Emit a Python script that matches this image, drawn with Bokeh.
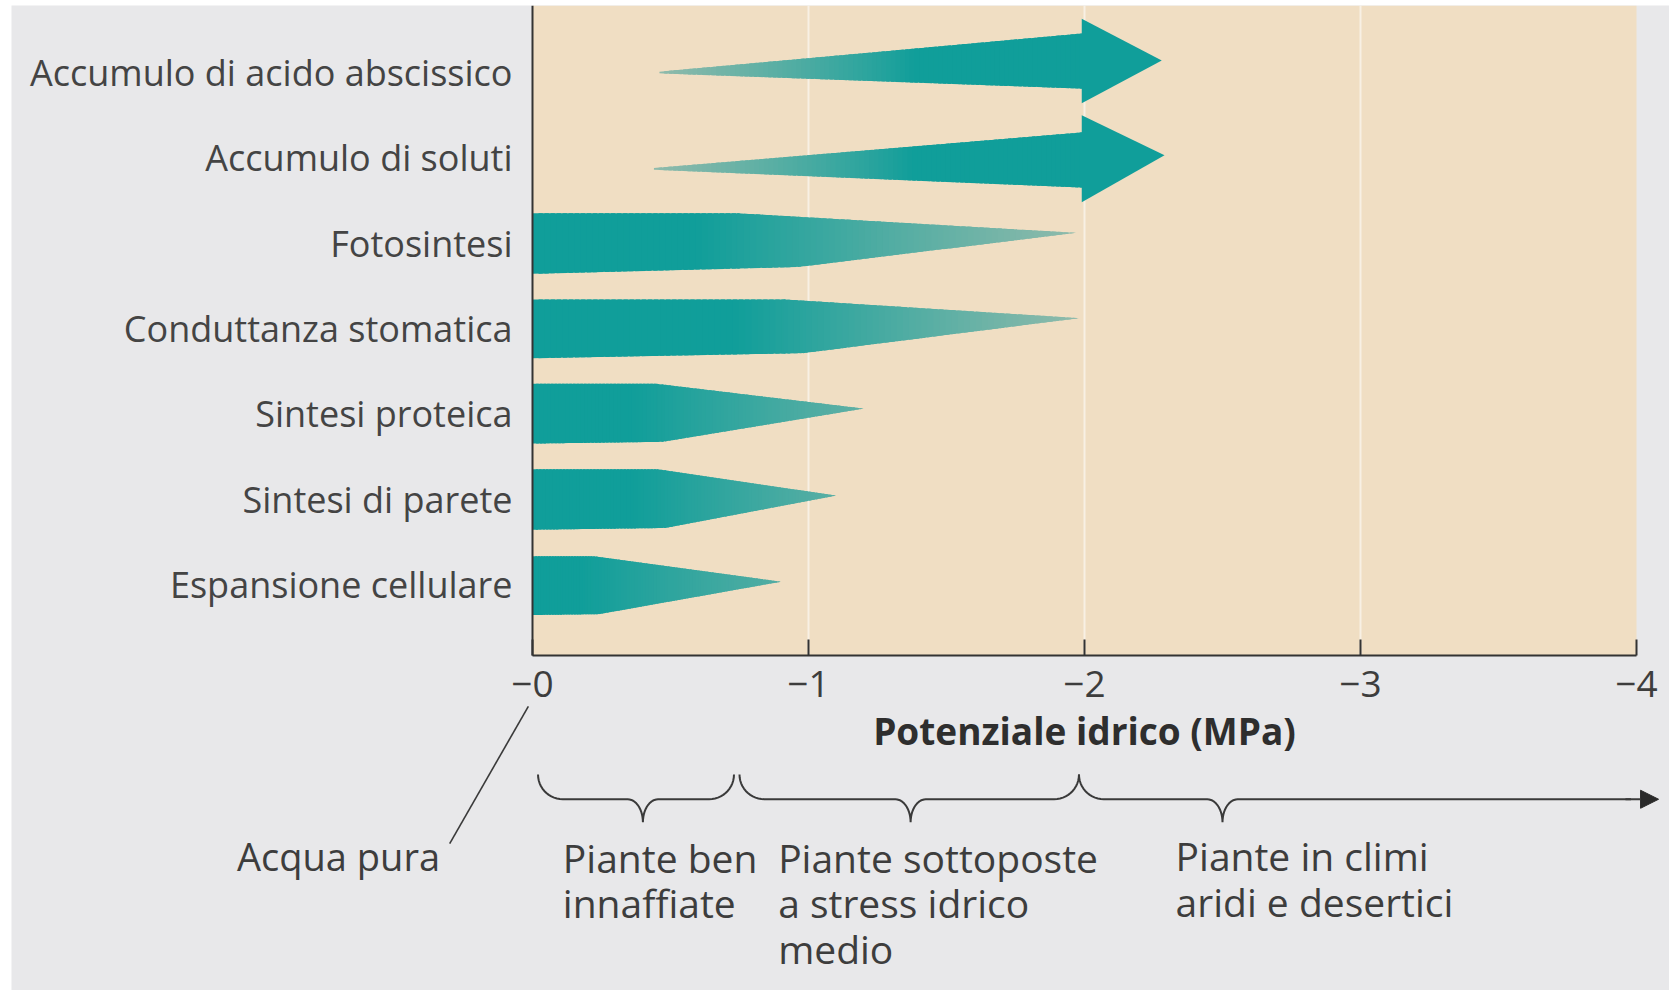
import numpy as np
from bokeh.plotting import figure
from bokeh.models import Range1d, FixedTicker, Arrow, NormalHead
from bokeh.core.properties import value
from bokeh.embed import file_html
from bokeh.resources import INLINE

# ---------------- data ----------------
categories = ["Accumulo di acido abscissico", "Accumulo di soluti", "Fotosintesi",
              "Conduttanza stomatica", "Sintesi proteica", "Sintesi di parete",
              "Espansione cellulare"]

# processes that increase with stress (arrows): start, arrow-head base, arrow tip (MPa)
arrow_rows = [0, 1]
arrow_start = [-0.46, -0.44]
arrow_head_base = [-2.0, -2.0]
arrow_tip = [-2.28, -2.29]

# processes that decline with stress: full until kink, vanish at end (MPa)
bar_rows = [2, 3, 4, 5, 6]
bar_kink_top = [-0.74, -0.91, -0.45, -0.45, -0.22]
bar_kink_bottom = [-0.96, -0.98, -0.47, -0.48, -0.24]
bar_end = [-1.97, -1.98, -1.20, -1.10, -0.90]

x_min, x_max = 0, -4
tick_values = [0, -1, -2, -3, -4]
tick_labels = ["\u22120", "\u22121", "\u22122", "\u22123", "\u22124"]

zone_start = [-0.02, -0.75, -1.98]
zone_end = [-0.73, -1.98, -4.08]
zone_mid = [-0.40, -1.37, -2.50]
zone_text_x = [-0.11, -0.89, -2.33]
zone_lines = [["Piante ben", "innaffiate"],
              ["Piante sottoposte", "a stress idrico", "medio"],
              ["Piante in climi", "aridi e desertici"]]

pure_water_label = "Acqua pura"
x_title = "Potenziale idrico (MPa)"

# ---------------- style ----------------
TEAL = np.array([16, 158, 154], dtype=float)
FADED = np.array([150, 188, 172], dtype=float)
TXT = "#3d3d3d"
FONT = "Open Sans"
ROW_TOP, ROW_BOTTOM = -0.7855, 6.835     # extent of the coloured plot area (rows)

# shape profiles (row offsets)
arrow_tail_off = [0.0, 0.13]
arrow_shaft_top = [-0.46, -0.30]
arrow_shaft_bot = [0.19, 0.35]
arrow_head_top = [-0.63, -0.50]
arrow_head_bot = [0.36, 0.52]
arrow_tip_off = [-0.14, -0.03]

bar_top_off = [-0.35, -0.34, -0.35, -0.35, -0.33]
bar_bot_off = [0.36, 0.35, 0.35, 0.36, 0.36]
bar_botk_off = [0.28, 0.29, 0.33, 0.34, 0.35]
bar_tip_off = [-0.12, -0.12, -0.06, -0.04, -0.03]
bar_fade = [0.95, 0.95, 0.6, 0.55, 0.5]


def hexcol(t):
    c = TEAL * (1 - t) + FADED * t
    return "#%02x%02x%02x" % tuple(int(round(v)) for v in c)


def strips(top_u, top_y, bot_u, bot_y, tfun, extra=(), n=90):
    u0 = max(top_u[0], bot_u[0])
    u1 = min(top_u[-1], bot_u[-1])
    edges = np.unique(np.concatenate([np.linspace(u0, u1, n + 1),
                                      [e for e in extra if u0 < e < u1]]))
    xs, ys, cs = [], [], []
    for a, b in zip(edges[:-1], edges[1:]):
        b2 = min(b + (b - a) * 0.7, u1)
        us = [a, b2]
        ty = np.interp(us, top_u, top_y)
        by = np.interp(us, bot_u, bot_y)
        xs.append([-a, -b2, -b2, -a])
        ys.append([ty[0], ty[1], by[1], by[0]])
        cs.append(hexcol(tfun(0.5 * (a + b))))
    return xs, ys, cs


all_xs, all_ys, all_cs = [], [], []

# declining bars
for i, r in enumerate(bar_rows):
    kt, kb, end = -bar_kink_top[i], -bar_kink_bottom[i], -bar_end[i]
    top_u = [0.0, kt, end]
    top_y = [r + bar_top_off[i], r + bar_top_off[i], r + bar_tip_off[i]]
    bot_u = [0.0, kb, end]
    bot_y = [r + bar_bot_off[i], r + bar_botk_off[i], r + bar_tip_off[i]]
    f0 = kt * 0.8
    s = bar_fade[i]

    def tf(u, f0=f0, end=end, s=s):
        if u <= f0:
            return 0.0
        return s * min(1.0, (u - f0) / (end - f0))

    xs, ys, cs = strips(top_u, top_y, bot_u, bot_y, tf, extra=(kt, kb))
    all_xs += xs; all_ys += ys; all_cs += cs

# increasing arrows
for i, r in enumerate(arrow_rows):
    st, base, tip = -arrow_start[i], -arrow_head_base[i], -arrow_tip[i]
    top_u = [st, base]
    top_y = [r + arrow_tail_off[i] - 0.01, r + arrow_shaft_top[i]]
    bot_u = [st, base]
    bot_y = [r + arrow_tail_off[i] + 0.01, r + arrow_shaft_bot[i]]
    full = st + 0.6 * (base - st)

    def tf(u, st=st, full=full):
        if u >= full:
            return 0.0
        return 0.95 * (1 - (u - st) / (full - st)) ** 0.9

    xs, ys, cs = strips(top_u, top_y, bot_u, bot_y, tf)
    all_xs += xs; all_ys += ys; all_cs += cs
    all_xs.append([arrow_head_base[i] + 0.01, arrow_tip[i], arrow_head_base[i] + 0.01])
    all_ys.append([r + arrow_head_top[i], r + arrow_tip_off[i], r + arrow_head_bot[i]])
    all_cs.append(hexcol(0.0))

# ---------------- figure ----------------
# the frame covers the whole page; the axes are pinned with fixed_location
p = figure(width=1669, height=990,
           x_range=Range1d(1.8877, -4.1196), y_range=Range1d(10.762, -0.7855),
           output_backend="svg", toolbar_location=None, title=None,
           min_border_left=11, min_border_right=0, min_border_top=5,
           min_border_bottom=0,
           background_fill_color="#E8E8EA", border_fill_color="white",
           outline_line_color=None)
p.grid.visible = False

# coloured plotting area
p.quad(left=[x_min], right=[x_max], top=[ROW_TOP], bottom=[ROW_BOTTOM],
       fill_color="#F0DEC3", line_color=None)
# faint light vertical lines at the inner ticks
p.segment(x0=tick_values[1:4], x1=tick_values[1:4],
          y0=[ROW_TOP] * 3, y1=[ROW_BOTTOM] * 3,
          line_color="white", line_alpha=0.55, line_width=2)

p.patches(xs=all_xs, ys=all_ys, fill_color=all_cs, line_color=None)

# x axis
xa = p.xaxis[0]
xa.fixed_location = ROW_BOTTOM
xa.bounds = (x_max, x_min)
xa.ticker = FixedTicker(ticks=tick_values)
xa.major_label_overrides = {v: l for v, l in zip(tick_values, tick_labels)}
xa.major_tick_in = 16
xa.major_tick_out = 0
xa.minor_tick_line_color = None
xa.major_tick_line_color = "#333333"
xa.major_tick_line_width = 2
xa.axis_line_color = "#333333"
xa.axis_line_width = 2
xa.major_label_text_font = FONT
xa.major_label_text_font_size = "37px"
xa.major_label_text_color = TXT
xa.major_label_standoff = 15
xa.axis_label = x_title
xa.axis_label_text_font = FONT
xa.axis_label_text_font_size = "37px"
xa.axis_label_text_font_style = "bold"
xa.axis_label_text_color = "#2e2e2e"
xa.axis_label_standoff = 5

# y axis
ya = p.yaxis[0]
ya.fixed_location = x_min
ya.bounds = (ROW_TOP, ROW_BOTTOM)
ya.ticker = FixedTicker(ticks=list(range(len(categories))))
ya.major_label_overrides = {i: c for i, c in enumerate(categories)}
ya.major_tick_line_color = None
ya.minor_tick_line_color = None
ya.axis_line_color = "#333333"
ya.axis_line_width = 2
ya.major_label_text_font = FONT
ya.major_label_text_font_size = "36px"
ya.major_label_text_color = "#444444"
ya.major_label_standoff = 14

# ---------------- braces below the axis ----------------
Y_TOP, Y_MID, Y_TIP = 8.23, 8.52, 8.79
RX, RT = 0.09, 0.055


def brace_pts(u_l, u_t, u_r, closed_right=True):
    th = np.linspace(0, np.pi / 2, 14)
    pts = []
    pts += list(zip(u_l + RX * (1 - np.cos(th)), Y_TOP + (Y_MID - Y_TOP) * np.sin(th)))
    pts += list(zip(u_t - RT + RT * np.sin(th), Y_MID + (Y_TIP - Y_MID) * (1 - np.cos(th))))
    pts += list(zip(u_t + RT - RT * np.cos(th), Y_TIP - (Y_TIP - Y_MID) * np.sin(th)))
    if closed_right:
        pts += list(zip(u_r - RX + RX * np.sin(th), Y_MID - (Y_MID - Y_TOP) * (1 - np.cos(th))))
    else:
        pts.append((u_r - 0.1, Y_MID))
    return pts


bxs, bys = [], []
for k in range(3):
    pts = brace_pts(-zone_start[k], -zone_mid[k], -zone_end[k], closed_right=(k < 2))
    bxs.append([-u for u, _ in pts])
    bys.append([y for _, y in pts])
p.multi_line(xs=bxs, ys=bys, line_color="#3a3a3a", line_width=2)
p.add_layout(Arrow(x_start=zone_end[2] + 0.12, y_start=Y_MID, x_end=zone_end[2], y_end=Y_MID,
                   end=NormalHead(size=18, fill_color="#2a2a2a", line_color="#2a2a2a"),
                   line_color="#3a3a3a", line_width=2))

tx, ty, tt = [], [], []
for k in range(3):
    for j, line in enumerate(zone_lines[k]):
        tx.append(zone_text_x[k])
        ty.append(9.20 + 0.535 * j - (0.02 if k == 2 else 0))
        tt.append(line)
p.text(x=tx, y=ty, text=tt, text_font=value(FONT), text_font_size="39px",
       text_color=TXT, text_align="left", text_baseline="middle")

# "Acqua pura" pointer to zero
p.segment(x0=[0.30], y0=[9.04], x1=[0.015], y1=[7.43], line_color="#3a3a3a", line_width=1.6)
p.text(x=[0.335], y=[9.18], text=[pure_water_label], text_font=value(FONT),
       text_font_size="38px", text_color=TXT, text_align="right", text_baseline="middle")

open("out.html", "w").write(file_html(p, INLINE))
